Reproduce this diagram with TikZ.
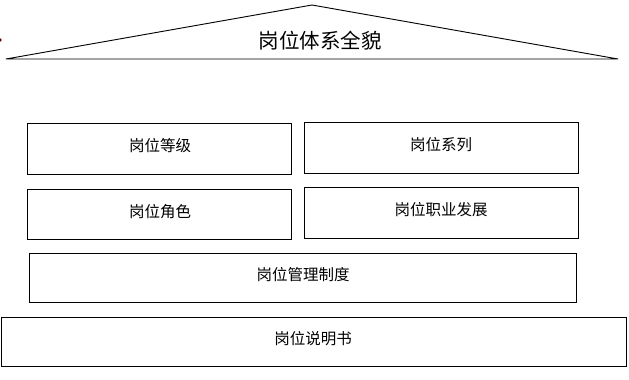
\documentclass[tikz,border=0pt]{standalone}
\usepackage{fontspec}
\newfontfamily\cjk{Noto Sans CJK SC}
\begin{document}
\begin{tikzpicture}[x=1pt,y=-1pt,
  blk/.style={draw=black,line width=0.9pt,fill=white},
  lbl/.style={font=\cjk\fontsize{15.5}{18}\selectfont,inner sep=0pt},
  ttl/.style={font=\cjk\fontsize{20.5}{24}\selectfont,inner sep=0pt}]
\useasboundingbox (0,0) rectangle (629,380);
% roof
\coordinate (rl) at (6,59);
\coordinate (ra) at (312,5);
\coordinate (rr) at (618,59);
\draw[line width=0.9pt,line join=round] (rl) -- (ra) -- (rr) -- cycle;
\node[ttl] (title) at (320,41) {岗位体系全貌};
\fill[red!45!black] (0,40) circle (1.8);
% boxes
\draw[blk] (27,123) rectangle (291,174);
\node[lbl] (dj) at (160,146) {岗位等级};
\draw[blk] (304,122) rectangle (578,173);
\node[lbl] (xl) at (441,145) {岗位系列};
\draw[blk] (27,189) rectangle (291,239);
\node[lbl] (js) at (160,212) {岗位角色};
\draw[blk] (304,187) rectangle (578,238);
\node[lbl] (zy) at (441,210) {岗位职业发展};
\draw[blk] (29,253) rectangle (576,302);
\node[lbl] (gl) at (303,275) {岗位管理制度};
\draw[blk] (1,317) rectangle (626,366);
\node[lbl] (sm) at (313,339) {岗位说明书};
\end{tikzpicture}
\end{document}
